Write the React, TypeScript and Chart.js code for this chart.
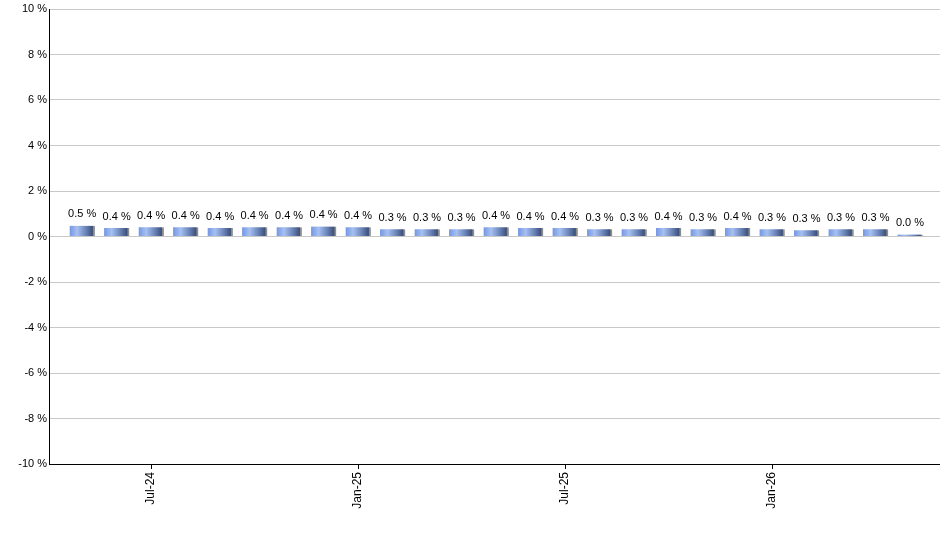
import React, { useEffect, useRef } from 'react';
import { Chart, registerables } from 'chart.js';

Chart.register(...registerables);

const months = [
  'May-24', 'Jun-24', 'Jul-24', 'Aug-24', 'Sep-24', 'Oct-24', 'Nov-24', 'Dec-24',
  'Jan-25', 'Feb-25', 'Mar-25', 'Apr-25', 'May-25', 'Jun-25', 'Jul-25', 'Aug-25',
  'Sep-25', 'Oct-25', 'Nov-25', 'Dec-25', 'Jan-26', 'Feb-26', 'Mar-26', 'Apr-26', 'May-26',
];
const values = [
  0.47, 0.37, 0.41, 0.41, 0.37, 0.41, 0.41, 0.44, 0.41, 0.32, 0.32, 0.32, 0.41,
  0.37, 0.37, 0.32, 0.32, 0.37, 0.32, 0.37, 0.32, 0.28, 0.32, 0.32, 0.04,
];
const tickMonths = ['Jul-24', 'Jan-25', 'Jul-25', 'Jan-26'];
const yTicks = [-10, -8, -6, -4, -2, 0, 2, 4, 6, 8, 10];

const BAR_W = 25;

const barLabels = {
  id: 'barLabels',
  afterDatasetsDraw(chart: any) {
    const ctx = chart.ctx;
    const meta = chart.getDatasetMeta(0);
    ctx.save();
    ctx.font = '11px Arial, "Liberation Sans", sans-serif';
    ctx.fillStyle = '#000';
    ctx.textAlign = 'center';
    ctx.textBaseline = 'bottom';
    meta.data.forEach((el: any, i: number) => {
      ctx.fillText(values[i].toFixed(1) + ' %', el.x, el.y - 6);
    });
    ctx.restore();
  },
};

export default function App() {
  const ref = useRef<HTMLCanvasElement | null>(null);
  useEffect(() => {
    if (!ref.current) return;
    const ctx = ref.current.getContext('2d');
    if (!ctx) return;
    Chart.defaults.font.family = 'Arial, "Liberation Sans", sans-serif';
    Chart.defaults.font.size = 11;
    Chart.defaults.color = '#000';
    const chart = new Chart(ctx, {
      type: 'bar',
      data: {
        datasets: [{
          data: values.map((v, i) => ({ x: i + 1, y: v })),
          backgroundColor: (c: any) => {
            const ch = c.chart;
            const xs = ch.scales && ch.scales.x;
            if (!xs || !ch.chartArea || c.dataIndex === undefined) return '#6f93e0';
            const cx = xs.getPixelForValue(c.dataIndex + 1);
            if (!isFinite(cx)) return '#6f93e0';
            const g = ch.ctx.createLinearGradient(cx - BAR_W / 2, 0, cx + BAR_W / 2, 0);
            g.addColorStop(0, '#7497e2');
            g.addColorStop(0.3, '#a6c0f2');
            g.addColorStop(0.65, '#6a84b8');
            g.addColorStop(1, '#2e3f66');
            return g;
          },
          borderColor: '#8c8c8c',
          borderWidth: { top: 0, left: 0, bottom: 0, right: 2 },
          borderSkipped: false,
          barThickness: BAR_W,
          minBarLength: 2,
        }],
      },
      options: {
        responsive: false,
        animation: false,
        devicePixelRatio: 1,
        layout: { padding: { top: 9, right: 0, left: 0, bottom: 0 } },
        plugins: { legend: { display: false }, tooltip: { enabled: false } },
        scales: {
          x: {
            type: 'linear',
            offset: false,
            min: 0.04,
            max: 25.87,
            afterBuildTicks: (scale: any) => {
              scale.ticks = tickMonths.map((m) => ({ value: months.indexOf(m) + 1 }));
            },
            afterFit: (scale: any) => { scale.height = 86; },
            ticks: {
              minRotation: 90,
              maxRotation: 90,
              autoSkip: false,
              padding: 3,
              font: { size: 12 },
              callback: (v: any) => months[Math.round(v) - 1] || '',
            },
            grid: { offset: false, drawOnChartArea: false, drawTicks: true, tickLength: 5, color: '#000' },
            border: { display: true, color: '#000', width: 1 },
          },
          y: {
            min: -10,
            max: 10,
            afterBuildTicks: (scale: any) => {
              scale.ticks = yTicks.map((v) => ({ value: v }));
            },
            afterFit: (scale: any) => { scale.width = 49; },
            ticks: { padding: 2, callback: (v: any) => v + ' %' },
            grid: { color: '#c8c8c8', drawTicks: false },
            border: { display: true, color: '#000', width: 1 },
          },
        },
      },
      plugins: [barLabels],
    } as any);
    return () => chart.destroy();
  }, []);
  return (
    <div style={{ position: 'fixed', left: 0, top: 0, width: 940, height: 550, background: '#fff' }}>
      <canvas ref={ref} width={940} height={550} style={{ width: 940, height: 550 }} />
    </div>
  );
}
